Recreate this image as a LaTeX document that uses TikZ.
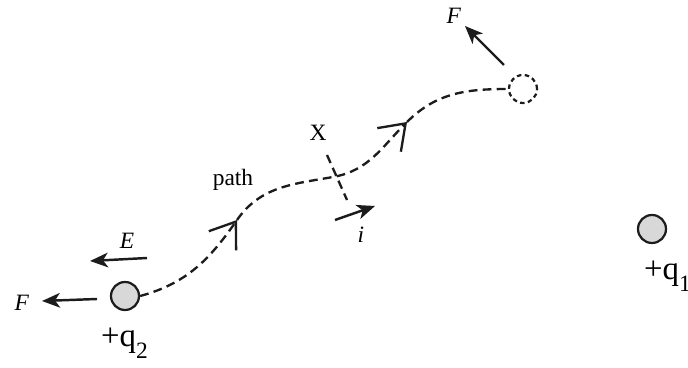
\documentclass[tikz,border=0pt]{standalone}
\usepackage{fontspec}
\setmainfont{Liberation Serif}
\usetikzlibrary{arrows.meta,positioning}
\definecolor{inkline}{HTML}{1C1C1C}
\definecolor{chargefill}{HTML}{D8D8D8}

\begin{document}
\begin{tikzpicture}[x=0.03cm,y=0.03cm,font=\fontsize{20}{23}\selectfont,
 charge/.style={circle,draw=inkline,fill=chargefill,line width=1.9pt,minimum size=0.84cm,inner sep=0pt},
 ghostcharge/.style={circle,draw=inkline,line width=1.9pt,dash pattern=on 3.8pt off 2.9pt,minimum size=0.84cm,inner sep=0pt},
 route/.style={draw=inkline,line width=2pt,dash pattern=on 7.5pt off 4.5pt},
 barb/.style={-{Straight Barb[length=7mm,width=10mm]}},
 force/.style={draw=inkline,line width=2.1pt,-{Stealth[length=5.4mm,width=4.4mm,inset=1.5mm]}},
 qlabel/.style={inner sep=0pt,anchor=base west,font=\fontsize{28}{32}\selectfont}]
\useasboundingbox (0,0) rectangle (688,368);

\node[charge] (q2) at (125,72) {};
\node[charge] (q1) at (652,139) {};
\node[ghostcharge] (qend) at (523,279) {};
\node[qlabel] (q2lab) at (101,21) {+q\raisebox{-0.35em}{\fontsize{20}{22}\selectfont 2}};
\node[qlabel] (q1lab) at (644,88) {+q\raisebox{-0.35em}{\fontsize{20}{22}\selectfont 1}};

\coordinate (a1) at (237,148);
\coordinate (cross) at (333,191);
\coordinate (a2) at (407,246);
\draw[route,barb] (q2.east) to[out=15,in=235] (a1);
\draw[route,barb] (a1) to[out=55,in=190] (cross) to[out=10,in=225] (a2);
\draw[route] (a2) to[out=45,in=180] (qend.west);

\coordinate (xtop) at (327,213);
\coordinate (xbot) at (347,168);
\draw[route] (xtop) -- (xbot);

\node (pathlab) at (233,188) {path};
\node (xlab) at (318,235) {X};
\node (ilab) at (361,133) {\textit{i}};
\node (elab) at (127,127) {\textit{E}};
\node (fleftlab) at (22,65) {\textit{F}};
\node (ftoplab) at (454,352) {\textit{F}};

\foreach \name/\tx/\ty/\hx/\hy in {efield/147/110/90/107,fleft/97/69/42/67,ftop/504/303/465/342,current/335/148/375/162} {
 \coordinate (\name-tail) at (\tx,\ty);
 \coordinate (\name-tip) at (\hx,\hy);
 \draw[force] (\name-tail) -- (\name-tip);
}
\end{tikzpicture}
\end{document}
